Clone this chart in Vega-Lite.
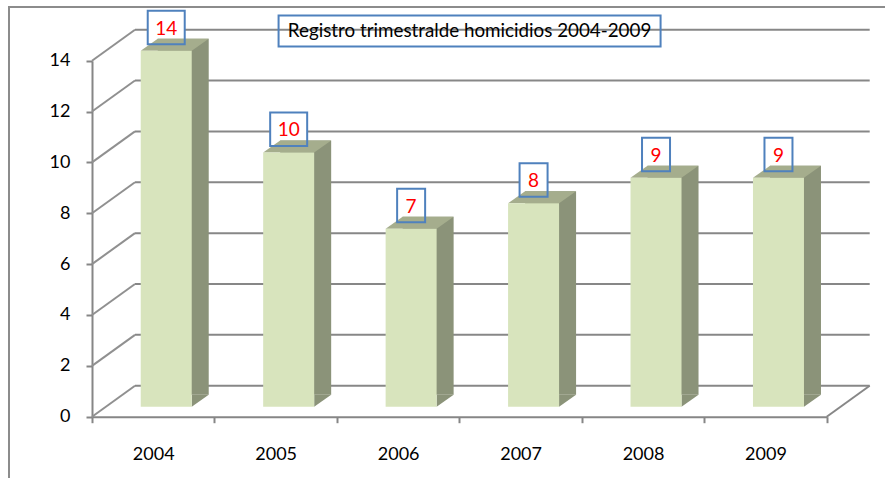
{
  "$schema": "https://vega.github.io/schema/vega-lite/v6.json",
  "width": 878,
  "height": 473,
  "autosize": {"type": "none"},
  "padding": {"left": 9, "top": 7, "right": 0, "bottom": 0},
  "background": "white",
  "config": {
    "view": {"stroke": "#8c8c8c", "strokeWidth": 2},
    "font": "Lato",
    "axisX": {"offset": -63.3, "tickBand": "extent", "tickSize": 6, "tickColor": "#868686", "tickWidth": 2, "domainColor": "#868686", "domainWidth": 2, "labelFontSize": 18, "labelPadding": 23, "labelColor": "#000000", "labelFont": "Lato", "labelAngle": 0, "grid": false, "title": null},
    "axisY": {"offset": -83, "tickSize": 6, "tickColor": "#868686", "tickWidth": 2, "domainColor": "#868686", "domainWidth": 2, "labelFontSize": 18, "labelPadding": 16, "labelColor": "#000000", "labelFont": "Lato", "grid": false, "title": null}
  },
  "datasets": {
    "bars": [
      {"year": "2004", "homicidios": 14},
      {"year": "2005", "homicidios": 10},
      {"year": "2006", "homicidios": 7},
      {"year": "2007", "homicidios": 8},
      {"year": "2008", "homicidios": 9},
      {"year": "2009", "homicidios": 9}
    ],
    "grid": [{"v": 0}, {"v": 2}, {"v": 4}, {"v": 6}, {"v": 8}, {"v": 10}, {"v": 12}, {"v": 14}],
    "one": [{"t": "Registro trimestralde homicidios 2004-2009"}]
  },
  "layer": [
    {
      "data": {"name": "grid"},
      "mark": {"type": "rule", "color": "#878787", "strokeWidth": 2, "xOffset": 43, "x2Offset": 43, "yOffset": -31},
      "encoding": {
        "x": {"datum": "2004", "bandPosition": 0, "scale": {"range": [83, 817.7], "paddingInner": 0, "paddingOuter": 0}, "title": null},
        "x2": {"datum": "2009", "bandPosition": 1},
        "y": {"field": "v", "type": "quantitative", "scale": {"domain": [0, 14], "range": [409.7, 53.7], "nice": false, "zero": true}, "axis": {"values": [0, 2, 4, 6, 8, 10, 12, 14]}, "title": null}
      }
    },
    {
      "data": {"name": "grid"},
      "mark": {"type": "rule", "color": "#909090", "strokeWidth": 2, "x2Offset": 43, "y2Offset": -31},
      "encoding": {
        "x": {"datum": "2004", "bandPosition": 0, "title": null},
        "x2": {"datum": "2004", "bandPosition": 0},
        "y": {"field": "v", "type": "quantitative", "title": null},
        "y2": {"field": "v"}
      }
    },
    {
      "data": {"name": "one"},
      "mark": {"type": "rule", "color": "#878787", "strokeWidth": 2, "x2Offset": 43, "y2Offset": -31},
      "encoding": {
        "x": {"datum": "2009", "bandPosition": 1, "title": null},
        "x2": {"datum": "2009", "bandPosition": 1},
        "y": {"datum": 0, "type": "quantitative", "title": null},
        "y2": {"datum": 0}
      }
    },
    {
      "data": {"name": "bars"},
      "transform": [{"filter": "datum.homicidios >= 10"}],
      "mark": {"type": "bar", "fill": "#ffffff", "width": 37, "xOffset": 13, "yOffset": -50, "y2Offset": -16.5},
      "encoding": {
        "x": {"field": "year", "type": "nominal", "title": null},
        "y": {"field": "homicidios", "type": "quantitative", "title": null},
        "y2": {"field": "homicidios"}
      }
    },
    {
      "data": {"name": "bars"},
      "transform": [{"filter": "datum.homicidios < 10"}],
      "mark": {"type": "bar", "fill": "#ffffff", "width": 28, "xOffset": 13, "yOffset": -50, "y2Offset": -16.5},
      "encoding": {
        "x": {"field": "year", "type": "nominal", "title": null},
        "y": {"field": "homicidios", "type": "quantitative", "title": null},
        "y2": {"field": "homicidios"}
      }
    },
    {
      "data": {"name": "bars"},
      "mark": {"type": "bar", "color": "#8b9379", "width": 51, "xOffset": 30, "yOffset": -22, "y2Offset": -22},
      "encoding": {
        "x": {"field": "year", "type": "nominal", "title": null},
        "y": {"field": "homicidios", "type": "quantitative", "title": null},
        "y2": {"datum": 0}
      }
    },
    {
      "data": {"name": "bars"},
      "mark": {"type": "point", "shape": "M-0.75,0L0.75,0L1.25,-0.353L-0.25,-0.353Z", "size": 4624, "filled": true, "fill": "#a5ad8d", "strokeWidth": 0, "opacity": 1, "xOffset": 13, "yOffset": -10},
      "encoding": {
        "x": {"field": "year", "type": "nominal", "title": null},
        "y": {"field": "homicidios", "type": "quantitative", "title": null}
      }
    },
    {
      "data": {"name": "bars"},
      "mark": {"type": "point", "shape": "M0.75,-0.353L1.25,-0.353L0.75,0Z", "size": 4624, "filled": true, "fill": "#8b9379", "strokeWidth": 0, "opacity": 1, "xOffset": 13, "yOffset": -10},
      "encoding": {
        "x": {"field": "year", "type": "nominal", "title": null},
        "y": {"datum": 0, "type": "quantitative", "title": null}
      }
    },
    {
      "data": {"name": "bars"},
      "mark": {"type": "bar", "color": "#d8e4bd", "width": 51, "xOffset": 13, "yOffset": -10, "y2Offset": -10},
      "encoding": {
        "x": {"field": "year", "type": "nominal", "title": null},
        "y": {"field": "homicidios", "type": "quantitative", "title": null},
        "y2": {"datum": 0}
      }
    },
    {
      "data": {"name": "bars"},
      "transform": [{"filter": "datum.homicidios >= 10"}],
      "mark": {"type": "bar", "fill": null, "fillOpacity": 0, "stroke": "#4f81bd", "strokeWidth": 2, "width": 37, "xOffset": 13, "yOffset": -50, "y2Offset": -16.5},
      "encoding": {
        "x": {"field": "year", "type": "nominal", "title": null},
        "y": {"field": "homicidios", "type": "quantitative", "title": null},
        "y2": {"field": "homicidios"}
      }
    },
    {
      "data": {"name": "bars"},
      "transform": [{"filter": "datum.homicidios < 10"}],
      "mark": {"type": "bar", "fill": null, "fillOpacity": 0, "stroke": "#4f81bd", "strokeWidth": 2, "width": 28, "xOffset": 13, "yOffset": -50, "y2Offset": -16.5},
      "encoding": {
        "x": {"field": "year", "type": "nominal", "title": null},
        "y": {"field": "homicidios", "type": "quantitative", "title": null},
        "y2": {"field": "homicidios"}
      }
    },
    {
      "data": {"name": "bars"},
      "mark": {"type": "text", "color": "#ff0000", "fontSize": 19, "font": "Lato", "baseline": "middle", "align": "center", "xOffset": 13, "yOffset": -32},
      "encoding": {
        "x": {"field": "year", "type": "nominal", "title": null},
        "y": {"field": "homicidios", "type": "quantitative", "title": null},
        "text": {"field": "homicidios", "type": "quantitative"}
      }
    },
    {
      "data": {"name": "one"},
      "mark": {"type": "point", "shape": "M-1,-0.0812H1V0.0812H-1Z", "size": 145924, "filled": false, "stroke": "#4f81bd", "strokeWidth": 2, "opacity": 1, "xOffset": -51},
      "encoding": {
        "x": {"datum": "2007", "title": null},
        "y": {"datum": 15.17, "type": "quantitative", "title": null}
      }
    },
    {
      "data": {"name": "one"},
      "mark": {"type": "text", "color": "#000000", "fontSize": 18.8, "font": "Lato", "baseline": "middle", "align": "center", "xOffset": -51},
      "encoding": {
        "x": {"datum": "2007", "title": null},
        "y": {"datum": 15.17, "type": "quantitative", "title": null},
        "text": {"field": "t", "type": "nominal"}
      }
    }
  ]
}
